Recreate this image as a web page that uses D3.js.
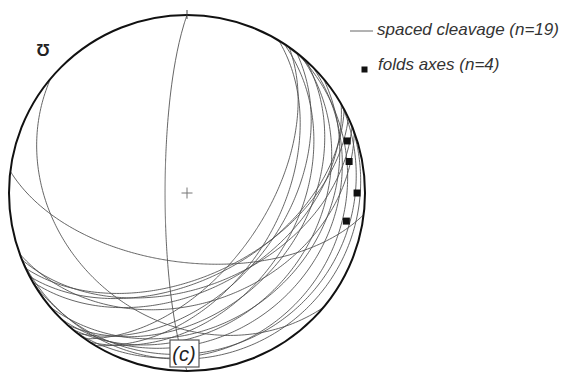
<!DOCTYPE html>
<html>
<head>
<meta charset="utf-8">
<script src="https://cdn.jsdelivr.net/npm/d3@7"></script>
<style>
  body { margin: 0; background: #fff; }
  svg { display: block; }
</style>
</head>
<body>
<svg id="chart" width="561" height="372"></svg>
<script>
// Spaced cleavage planes: dip direction and dip, degrees
const cleavageDipDir = [125, 121, 128, 123, 132, 130, 140, 135, 128, 150, 158, 155, 152, 158, 150, 160, 270, 187, 220];
const cleavageDip    = [ 54,  47,  45,  38,  36,  28,  27,  21,  14,  12,   8,  51,  50,  46,  45,  38,  80,  58,  30];
// Fold axes: trend and plunge, degrees
const foldTrend  = [72, 79, 90, 100];
const foldPlunge = [ 6,  8,  5,  10];
const legendLabels = ["spaced cleavage (n=19)", "folds axes (n=4)"];
const panelLabel = "(c)";
const sigmaLabel = "Ʊ";

const svg = d3.select("#chart");
const cx = 187, cy = 193, R = 178;

// Unit-disc coordinates to pixels
const x = d3.scaleLinear().domain([-1, 1]).range([cx - R, cx + R]);
const y = d3.scaleLinear().domain([-1, 1]).range([cy + R, cy - R]);
const rad = Math.PI / 180;

// Lower-hemisphere equal-area (Schmidt) projection of a line
function project(trend, plunge) {
  const r = Math.SQRT2 * Math.sin((90 - plunge) / 2 * rad);
  return [x(r * Math.sin(trend * rad)), y(r * Math.cos(trend * rad))];
}

// Great circle of a plane traced through its apparent dips
function greatCircle(dipDir, dip) {
  const pts = [];
  for (let a = -90; a <= 90; a += 1) {
    const app = Math.atan(Math.tan(dip * rad) * Math.cos(a * rad)) / rad;
    pts.push(project(dipDir + a, app));
  }
  return pts;
}

const line = d3.line().curve(d3.curveCatmullRom);

const planes = cleavageDipDir.map((d, i) => ({ dipDir: d, dip: cleavageDip[i] }));

const clip = svg.append("clipPath").attr("id", "net");
clip.append("circle").attr("cx", cx).attr("cy", cy).attr("r", R);

svg.append("g").attr("clip-path", "url(#net)")
  .selectAll("path").data(planes).join("path")
  .attr("d", p => line(greatCircle(p.dipDir, p.dip)))
  .attr("fill", "none")
  .attr("stroke", "#4a4a4a")
  .attr("stroke-width", 0.85);

// Primitive circle
svg.append("circle").attr("cx", cx).attr("cy", cy).attr("r", R)
  .attr("fill", "none").attr("stroke", "#111").attr("stroke-width", 2);

// North tick and centre cross
svg.append("line").attr("x1", cx).attr("x2", cx).attr("y1", cy - R - 5).attr("y2", cy - R + 4)
  .attr("stroke", "#444").attr("stroke-width", 1);
svg.append("g").attr("stroke", "#777").attr("stroke-width", 1)
  .call(g => {
    g.append("line").attr("x1", cx - 5.5).attr("x2", cx + 5.5).attr("y1", cy).attr("y2", cy);
    g.append("line").attr("x1", cx).attr("x2", cx).attr("y1", cy - 5.5).attr("y2", cy + 5.5);
  });

// Fold axes
const folds = foldTrend.map((t, i) => project(t, foldPlunge[i]));
svg.append("g").selectAll("rect").data(folds).join("rect")
  .attr("x", d => d[0] - 3.5).attr("y", d => d[1] - 3.5)
  .attr("width", 7).attr("height", 7).attr("fill", "#111");

// Panel label box
const box = svg.append("g");
box.append("rect").attr("x", 170).attr("y", 340).attr("width", 29).attr("height", 27)
  .attr("fill", "#fff").attr("stroke", "#555").attr("stroke-width", 1.2);
box.append("text").attr("x", 184).attr("y", 361).attr("text-anchor", "middle")
  .attr("font-family", "Liberation Sans, Arial, sans-serif").attr("font-style", "italic")
  .attr("font-size", 20).attr("fill", "#222").text(panelLabel);

// Stress symbol
svg.append("text").attr("x", 43).attr("y", 56).attr("text-anchor", "middle")
  .attr("font-family", "Liberation Sans, Arial, sans-serif").attr("font-weight", "bold")
  .attr("font-size", 17).attr("fill", "#222").text(sigmaLabel);

// Legend
const legend = svg.append("g").attr("font-family", "Liberation Sans, Arial, sans-serif")
  .attr("font-style", "italic").attr("font-size", 17).attr("fill", "#333");
legend.append("line").attr("x1", 350).attr("x2", 373).attr("y1", 31).attr("y2", 31)
  .attr("stroke", "#666").attr("stroke-width", 1);
legend.append("text").attr("x", 377).attr("y", 35).text(legendLabels[0]);
legend.append("rect").attr("x", 361.5).attr("y", 66.5).attr("width", 6).attr("height", 6).attr("fill", "#111");
legend.append("text").attr("x", 378).attr("y", 70).text(legendLabels[1]);
</script>
</body>
</html>
